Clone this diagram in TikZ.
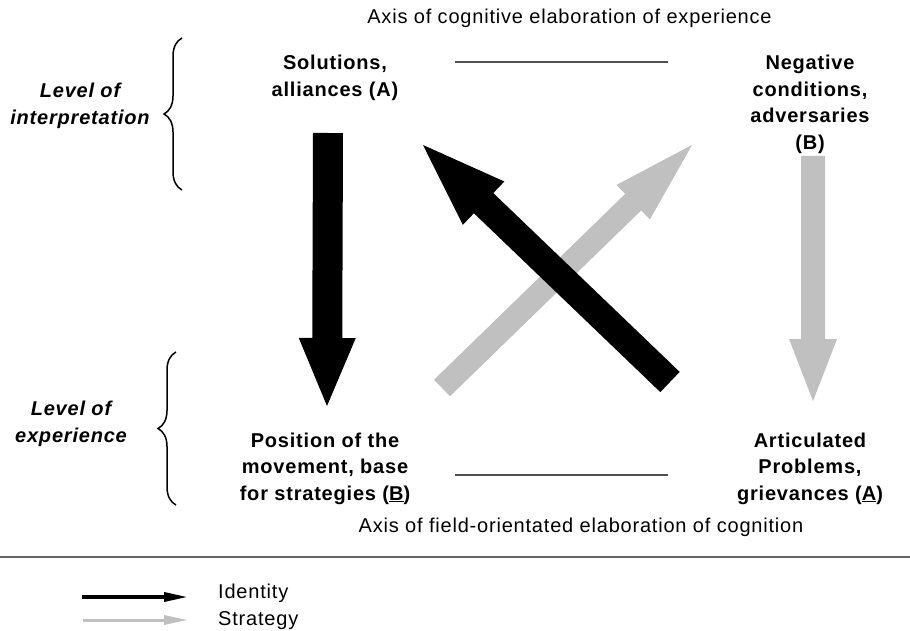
\documentclass[tikz,border=0pt]{standalone}
\usepackage{fontspec}
\setmainfont{Liberation Sans}[LetterSpace=4]
\usetikzlibrary{calc,decorations.pathreplacing,arrows.meta}
\definecolor{arrowgrey}{RGB}{192,192,192}
\definecolor{axisgrey}{RGB}{80,80,80}
\definecolor{rulegrey}{RGB}{100,100,100}
% #1 colour, #2 tail, #3 tip, #4 half shaft width, #5 half head width, #6 head length
\newcommand\fatarrow[6]{%
  \fill[#1] ($(#2)!#4!90:(#3)$) -- ($(#3)!#6!(#2)!#4!-90:(#2)$) -- ($(#3)!#6!(#2)!#5!-90:(#2)$)
    -- (#3) -- ($(#3)!#6!(#2)!#5!90:(#2)$) -- ($(#3)!#6!(#2)!#4!90:(#2)$) -- ($(#2)!#4!-90:(#3)$) -- cycle;}
\tikzset{
  lbl/.style={font=\fontsize{20bp}{26.5bp}\selectfont, inner sep=0pt, align=center},
  blbl/.style={lbl, font=\fontsize{20bp}{26.5bp}\selectfont\bfseries},
  lvl/.style={lbl, font=\fontsize{20bp}{27bp}\selectfont\bfseries\itshape},
  axisline/.style={line width=2.5bp, draw=axisgrey},
  bracestyle/.style={decorate, decoration={brace, amplitude=18bp}, line width=1.5bp},
  keyline/.style={line width=3.5bp, -{Triangle[length=24bp,width=9bp]}},
}
\begin{document}
\begin{tikzpicture}[x=1bp,y=-1bp]
\useasboundingbox (0,0) rectangle (910,631);
% texts
\node[lbl, anchor=base] (axtop) at (569.5,24) {Axis of cognitive elaboration of experience};
\node[blbl, anchor=north] (sol) at (335,55) {Solutions,\\alliances (A)};
\node[blbl, anchor=north] (neg) at (810,55) {Negative\\conditions,\\adversaries\\(B)};
\node[blbl, anchor=north] (pos) at (325,432.4) {Position of the\\movement, base\\for strategies (\underline{B})};
\node[blbl, anchor=north] (art) at (810,432.4) {Articulated\\Problems,\\grievances (\underline{A})};
\node[lbl, anchor=base] (axbot) at (581,532) {Axis of field-orientated elaboration of cognition};
\node[lvl, anchor=north] (lint) at (80,82.4) {Level of\\interpretation};
\node[lvl, anchor=north] (lexp) at (71,400.4) {Level of\\experience};
% axis lines and rule
\coordinate (tl1) at (455,62); \coordinate (tl2) at (668,62);
\coordinate (bl1) at (455,475); \coordinate (bl2) at (668,475);
\coordinate (r1) at (0,557); \coordinate (r2) at (910,557);
\draw[axisline] (tl1) -- (tl2);
\draw[axisline] (bl1) -- (bl2);
\draw[line width=1.2bp, rulegrey] (r1) -- (r2);
% braces
\coordinate (b1a) at (182,190); \coordinate (b1b) at (182,38);
\coordinate (b2a) at (176,505); \coordinate (b2b) at (176,352);
\draw[bracestyle] (b1a) -- (b1b);
\draw[bracestyle] (b2a) -- (b2b);
% big arrows
\coordinate (a1s) at (328,133); \coordinate (a1e) at (327,406);
\coordinate (a2s) at (813,156); \coordinate (a2e) at (813,401);
\coordinate (a3s) at (442,388); \coordinate (a3e) at (692,145);
\coordinate (a4s) at (670,382); \coordinate (a4e) at (423,145);
\fatarrow{black}{a1s}{a1e}{15bp}{28.5bp}{68bp}
\fatarrow{arrowgrey}{a2s}{a2e}{12bp}{24bp}{62bp}
\fatarrow{arrowgrey}{a3s}{a3e}{11.5bp}{24bp}{82bp}
\fatarrow{black}{a4s}{a4e}{14bp}{30bp}{84bp}
% legend
\coordinate (k1a) at (82,597); \coordinate (k1b) at (188,597);
\coordinate (k2a) at (83,620); \coordinate (k2b) at (188,620);
\draw[keyline, black] (k1a) -- (k1b);
\draw[keyline, arrowgrey, line width=3bp] (k2a) -- (k2b);
\node[lbl, anchor=base west] (kid) at (218,598) {Identity};
\node[lbl, anchor=base west] (kst) at (218,625) {Strategy};
\end{tikzpicture}
\end{document}
